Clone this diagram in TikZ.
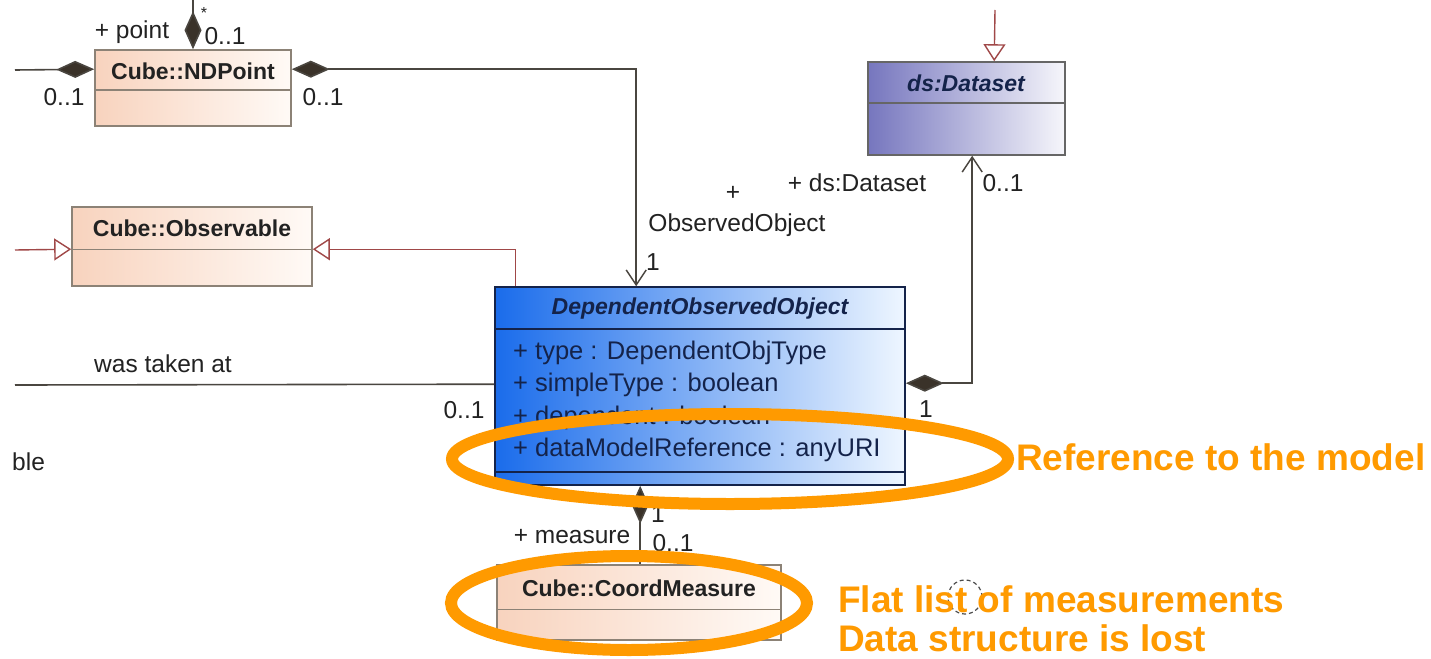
\documentclass[tikz,border=0pt]{standalone}
\usepackage{fontspec}
\setmainfont{Liberation Sans}
\usetikzlibrary{arrows.meta,calc}

\definecolor{umlline}{HTML}{4A4640}
\definecolor{genline}{HTML}{A04848}
\definecolor{boxedge}{HTML}{8C8276}
\definecolor{peachA}{HTML}{F8D3BE}
\definecolor{peachB}{HTML}{FFFAF6}
\definecolor{lilacA}{HTML}{7676BE}
\definecolor{lilacB}{HTML}{F6F6FB}
\definecolor{blueA}{HTML}{1A6CEB}
\definecolor{blueB}{HTML}{EEF6FF}
\definecolor{navy}{HTML}{14234A}
\definecolor{diam}{HTML}{3A3229}
\definecolor{labeltext}{HTML}{222222}
\definecolor{hilite}{HTML}{FF9A00}

\newcommand{\umlsize}{\fontsize{23}{27}\selectfont}
\newcommand{\lblsize}{\fontsize{24.5}{29}\selectfont}
\newcommand{\attrsize}{\fontsize{25.5}{30}\selectfont}
\newcommand{\notesize}{\fontsize{37}{42}\selectfont}

\tikzset{
  classbox/.style={draw=boxedge, line width=1.6pt, inner sep=0pt, shading=axis,
                   left color=peachA, right color=peachB},
  dsbox/.style={classbox, left color=lilacA, right color=lilacB, draw=gray!80!black},
  doobox/.style={classbox, left color=blueA, right color=blueB, draw=navy},
  title/.style={font=\umlsize\bfseries, text=labeltext, inner sep=0pt},
  lbl/.style={font=\lblsize, text=labeltext, inner sep=0pt},
  attr/.style={font=\attrsize, text=navy, inner sep=0pt, anchor=west},
  assoc/.style={draw=umlline, line width=1.6pt},
  comp/.style={assoc, {Diamond[length=38pt,width=17pt,fill=diam]}-},
  compnav/.style={assoc, {Diamond[length=38pt,width=17pt,fill=diam]}-{Straight Barb[length=15pt,width=20pt,line width=1.4pt]}},
  gen/.style={draw=genline, line width=1.4pt, -{Triangle[length=17pt,width=22pt,fill=white]}},
  ring/.style={draw=hilite, line width=12pt},
  note/.style={font=\notesize\bfseries, text=hilite, inner sep=0pt, anchor=west}
}

\begin{document}
\begin{tikzpicture}[x=1pt,y=-1pt]
\useasboundingbox[fill=white] (0,0) rectangle (1431,658);

% class boxes
\node[classbox, minimum width=196pt, minimum height=76pt] (ndp) at (193,88) {};
\node[classbox, minimum width=240pt, minimum height=79pt] (obs) at (192,246.5) {};
\node[dsbox, minimum width=197pt, minimum height=93pt] (ds) at (966.5,108.5) {};
\node[doobox, minimum width=410pt, minimum height=198pt] (doo) at (700,386) {};
\node[classbox, minimum width=284pt, minimum height=75pt] (cm) at (639,602.5) {};

% compartment separators
\draw[boxedge, line width=1.4pt] ($(ndp.north west)+(0,41)$) -- ($(ndp.north east)+(0,41)$);
\draw[boxedge, line width=1.4pt] ($(obs.north west)+(0,43)$) -- ($(obs.north east)+(0,43)$);
\draw[gray!80!black, line width=1.4pt] ($(ds.north west)+(0,42)$) -- ($(ds.north east)+(0,42)$);
\draw[navy, line width=1.6pt] ($(doo.north west)+(0,43)$) -- ($(doo.north east)+(0,43)$);
\draw[navy, line width=1.6pt] ($(doo.north west)+(0,186)$) -- ($(doo.north east)+(0,186)$);
\draw[boxedge, line width=1.4pt] ($(cm.north west)+(0,45)$) -- ($(cm.north east)+(0,45)$);

% titles
\node[title] (ndpT) at (193,71) {Cube::NDPoint};
\node[title] (obsT) at (192,228) {Cube::Observable};
\node[title, font=\umlsize\bfseries\itshape, text=navy] (dsT) at (966,83) {ds:Dataset};
\node[title, font=\umlsize\bfseries\itshape, text=navy] (dooT) at (700,309) {DependentObservedObject};
\node[title] (cmT) at (639,588) {Cube::CoordMeasure};

% attributes
\node[attr] (a1) at (513,353) {+ type : DependentObjType};
\node[attr] (a2) at (513,385) {+ simpleType : boolean};
\node[attr] (a3) at (513,418) {+ dependent : boolean};
\node[attr] (a4) at (513,450) {+ dataModelReference : anyURI};

% free ends of connectors leaving the drawing
\coordinate (ndpLeft) at (15,70);
\coordinate (ndpTop) at (193,0);
\coordinate (obsLeft) at (15,250);
\coordinate (dsTop) at (995,10);
\coordinate (takenLeft) at (15,385);

% associations
\draw[assoc, -{Diamond[length=38pt,width=17pt,fill=diam]}] (ndpLeft) -- ($(ndp.north west)+(0,20)$);
\draw[assoc, -{Diamond[length=38pt,width=17pt,fill=diam]}] (ndpTop) -- (ndp.north);
\draw[compnav] ($(ndp.north east)+(0,20)$) -| ($(doo.north west)+(142,0)$);
\draw[compnav] ($(doo.north east)+(0,97)$) -| ($(ds.south west)+(105,0)$);
\draw[assoc] (takenLeft) -- ($(doo.north west)+(0,98)$);
\draw[comp] ($(doo.south west)+(146,0)$) -- ($(cm.north west)+(144,0)$);

% generalizations
\draw[gen] (obsLeft) -- ($(obs.north west)+(0,43)$);
\draw[gen] ($(doo.north west)+(21,0)$) |- ($(obs.north east)+(0,43)$);
\draw[gen] (dsTop) -- ($(ds.north west)+(127,0)$);

% role names and multiplicities
\node[lbl] (l1) at (132,32) {+ point};
\node[lbl, font=\fontsize{16}{18}\selectfont] (l2) at (204,13) {*};
\node[lbl] (l3) at (225,36) {0..1};
\node[lbl] (l4) at (64,97) {0..1};
\node[lbl] (l5) at (323,97) {0..1};
\node[lbl] (l6) at (733,193) {+};
\node[lbl] (l7) at (737,225) {ObservedObject};
\node[lbl] (l8) at (653,262) {1};
\node[lbl] (l9) at (857,183) {+ ds:Dataset};
\node[lbl] (l10) at (1003,183) {0..1};
\node[lbl] (l11) at (926,409) {1};
\node[lbl] (l12) at (163,364) {was taken at};
\node[lbl] (l13) at (464,410) {0..1};
\node[lbl, anchor=west] (l14) at (12,462) {ble};
\node[lbl] (l15) at (572,537) {+ measure};
\node[lbl] (l16) at (658,514) {1};
\node[lbl] (l17) at (673,543) {0..1};

% highlights
\draw[ring] (730,459) ellipse [x radius=278pt, y radius=45pt];
\draw[ring] (629,603) ellipse [x radius=178pt, y radius=47pt];
\draw[gray!60!black, line width=1.2pt, dash pattern=on 4pt off 3pt] (965,597) circle [radius=17pt];

\node[note] (n1) at (1016,457) {Reference to the model};
\node[note] (n2) at (838,599) {Flat list of measurements};
\node[note] (n3) at (838,638) {Data structure is lost};
\end{tikzpicture}
\end{document}
